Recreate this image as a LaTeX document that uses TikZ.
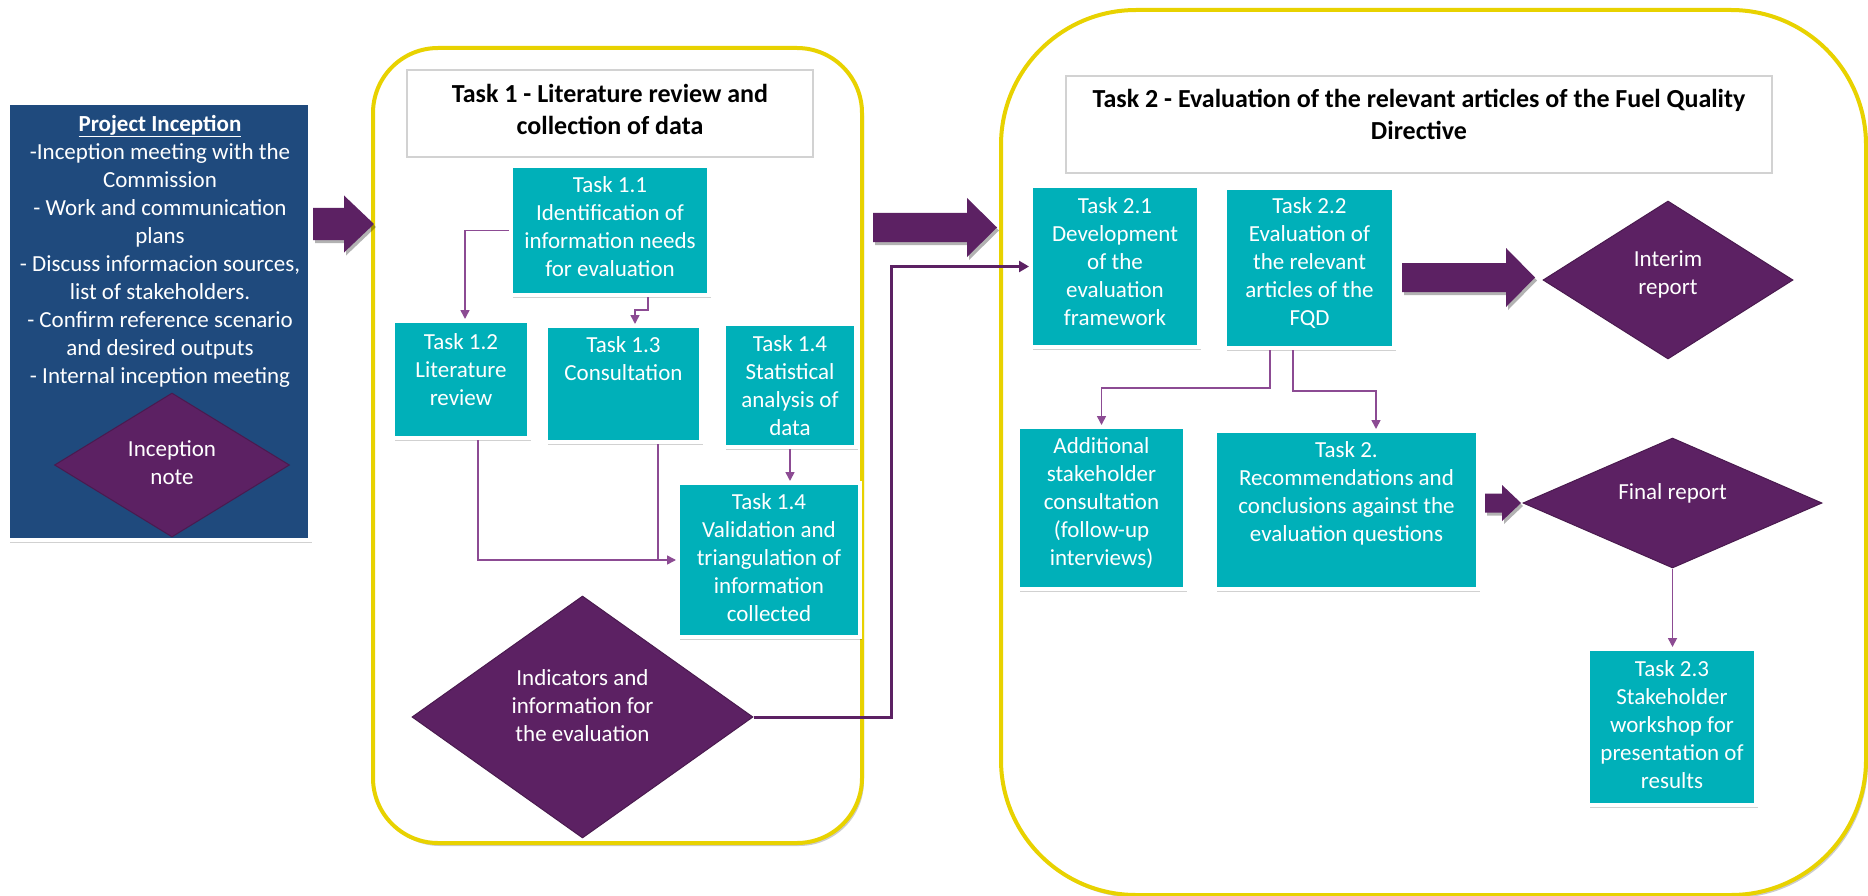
\documentclass[tikz,border=0pt]{standalone}
\usepackage{fontspec}
\setmainfont{Carlito}
\usetikzlibrary{shapes.geometric,shadows,arrows.meta,calc}
\definecolor{tealc}{HTML}{00B0B9}
\definecolor{purp}{HTML}{5C2163}
\definecolor{lpurp}{HTML}{8C4B93}
\definecolor{dblue}{HTML}{1F4A7D}
\definecolor{yel}{HTML}{E8D200}
\tikzset{
  shad/.style={drop shadow={shadow xshift=1.5pt,shadow yshift=-2.5pt,opacity=0.18,fill=black}},
  tbox/.style={rectangle, fill=tealc, draw=white, line width=4pt, inner sep=0pt, shad},
  pibox/.style={rectangle, fill=dblue, draw=white, line width=4pt, inner sep=0pt, shad},
  ttext/.style={text=white, align=center, font=\fontsize{23}{28}\selectfont, inner sep=0pt},
  dia/.style={diamond, fill=purp, draw=purp!80!black, line width=1pt, inner sep=0pt},
  cont/.style={rectangle, draw=yel, line width=4pt, fill=white, inner sep=0pt,
    drop shadow={shadow xshift=2pt,shadow yshift=-3pt,opacity=0.2,fill=black}},
  ttl/.style={rectangle, draw=gray!35, line width=1.5pt, fill=white, inner sep=0pt},
  ttltext/.style={font=\fontsize{26}{32}\selectfont\bfseries, align=center, text=black, inner sep=0pt},
  conn/.style={draw=lpurp, line width=1.6pt, -{Triangle[length=9pt,width=9pt]}},
  connplain/.style={draw=lpurp, line width=1.6pt},
  connthick/.style={draw=purp, line width=3pt, -{Triangle[length=10pt,width=11pt]}}
}
\newcommand{\blockarr}[5]{%
  \fill[purp, drop shadow={shadow xshift=2pt,shadow yshift=-3pt,opacity=0.3,fill=black}]
   ($(#1)+(0,-#3)$) -- ($(#2)+(-#5,-#3)$) -- ($(#2)+(-#5,-#4)$) -- (#2) --
   ($(#2)+(-#5,#4)$) -- ($(#2)+(-#5,#3)$) -- ($(#1)+(0,#3)$) -- cycle;}
\begin{document}
\begin{tikzpicture}[x=1pt,y=-1pt]
\useasboundingbox (0,0) rectangle (1868,896);
\fill[white] (0,0) rectangle (1868,896);

% containers
\node[cont, minimum width=489pt, minimum height=795pt, rounded corners=65pt] (c1) at (617.5,445.5) {};
\node[cont, minimum width=865pt, minimum height=885pt, rounded corners=135pt] (c2) at (1433.5,452.5) {};

% project inception
\node[pibox, minimum width=302pt, minimum height=437pt] (pi) at (159,321.5) {};
\node[ttext] (pitxt) at (160,251) {\textbf{\underline{Project Inception}}\\-Inception meeting with the\\Commission\\- Work and communication\\plans\\- Discuss informacion sources,\\list of stakeholders.\\- Confirm reference scenario\\and desired outputs\\- Internal inception meeting};
\node[dia, minimum width=235pt, minimum height=144pt] (inote) at (172,465) {};
\node[ttext] (inotetxt) at (172,463) {Inception\\note};

% task 1
\node[ttl, minimum width=406pt, minimum height=87pt] (t1title) at (610,113.5) {};
\node[ttltext] (t1titletxt) at (610,109) {Task 1 - Literature review and\\collection of data};

\node[tbox, minimum width=198pt, minimum height=129pt] (t11) at (610,230.5) {};
\node[ttext] (t11txt) at (610,227) {Task 1.1\\Identification of\\information needs\\for evaluation};

\node[tbox, minimum width=136pt, minimum height=117pt] (t12) at (461,379.5) {};
\node[ttext] (t12txt) at (461,370) {Task 1.2\\Literature\\review};

\node[tbox, minimum width=155pt, minimum height=116pt] (t13) at (623.5,384) {};
\node[ttext] (t13txt) at (623.5,359) {Task 1.3\\Consultation};

\node[tbox, minimum width=132pt, minimum height=123pt] (t14a) at (790,385.5) {};
\node[ttext] (t14atxt) at (790,385.5) {Task 1.4\\Statistical\\analysis of\\data};

\node[tbox, minimum width=182pt, minimum height=154pt] (t14b) at (769,560) {};
\node[ttext] (t14btxt) at (769,557.5) {Task 1.4\\Validation and\\triangulation of\\information\\collected};

\node[dia, minimum width=341pt, minimum height=242pt] (ind) at (582.5,717) {};
\node[ttext] (indtxt) at (582.5,705.5) {Indicators and\\information for\\the evaluation};

% task 2
\node[ttl, minimum width=706pt, minimum height=97pt] (t2title) at (1419,124.5) {};
\node[ttltext] (t2titletxt) at (1419,114) {Task 2 - Evaluation of the relevant articles of the Fuel Quality\\Directive};

\node[tbox, minimum width=168pt, minimum height=161pt] (t21) at (1115,266.5) {};
\node[ttext] (t21txt) at (1115,261.5) {Task 2.1\\Development\\of the\\evaluation\\framework};

\node[tbox, minimum width=169pt, minimum height=160pt] (t22) at (1309.5,268) {};
\node[ttext] (t22txt) at (1309.5,263) {Task 2.2\\Evaluation of\\the relevant\\articles of the\\FQD};

\node[dia, minimum width=250pt, minimum height=158pt] (interim) at (1668,280) {};
\node[ttext] (interimtxt) at (1668,274.5) {Interim\\report};

\node[tbox, minimum width=167pt, minimum height=162pt] (add) at (1101.5,508) {};
\node[ttext] (addtxt) at (1101.5,503) {Additional\\stakeholder\\consultation\\(follow-up\\interviews)};

\node[tbox, minimum width=263pt, minimum height=158pt] (t2rec) at (1346.5,510) {};
\node[ttext] (t2rectxt) at (1346.5,493) {Task 2.\\Recommendations and\\conclusions against the\\evaluation questions};

\node[dia, minimum width=299pt, minimum height=130pt] (final) at (1672.5,503) {};
\node[ttext] (finaltxt) at (1672.5,493) {Final report};

\node[tbox, minimum width=168pt, minimum height=156pt] (t23) at (1672,727) {};
\node[ttext] (t23txt) at (1672,725) {Task 2.3\\Stakeholder\\workshop for\\presentation of\\results};

% block arrows
\coordinate (a1s) at (313,224);   \coordinate (a1e) at (374,224);
\coordinate (a2s) at (873,227.5); \coordinate (a2e) at (997,227.5);
\coordinate (a3s) at (1402,277.5);\coordinate (a3e) at (1535,277.5);
\coordinate (a4s) at (1485,503);  \coordinate (a4e) at (1521,503);
\blockarr{a1s}{a1e}{16}{28.5}{30}
\blockarr{a2s}{a2e}{14.5}{29.5}{30}
\blockarr{a3s}{a3e}{14.5}{29.5}{29}
\blockarr{a4s}{a4e}{9.5}{18}{19}

% thin connectors task 1
\draw[conn] (t11.west) -| ($(t12.north)+(4,0)$);
\draw[conn] ($(t11.south)+(38,0)$) -- ++(0,13) -| ($(t13.north)+(11.5,0)$);
\draw[conn] (t14a.south) -- (t14a.south |- t14b.north);
\draw[conn] ($(t12.south)+(17,0)$) |- (t14b.west);
\draw[connplain] ($(t13.south)+(34.5,0)$) coordinate (j13) -- (j13 |- t14b.west);

% indicators to task 2.1
\coordinate (bendx) at (891,0);
\draw[connthick] (ind.east) -- (ind.east -| bendx) |- (t21.west);

% task 2 connectors
\draw[conn] ($(t22.south)+(-39.5,0)$) -- ++(0,38) -| (add.north);
\draw[conn] ($(t22.south)+(-16.5,0)$) -- ++(0,41) -| ($(t2rec.north)+(29.5,0)$);
\draw[conn] (final.south) -- (final.south |- t23.north);
\end{tikzpicture}
\end{document}
